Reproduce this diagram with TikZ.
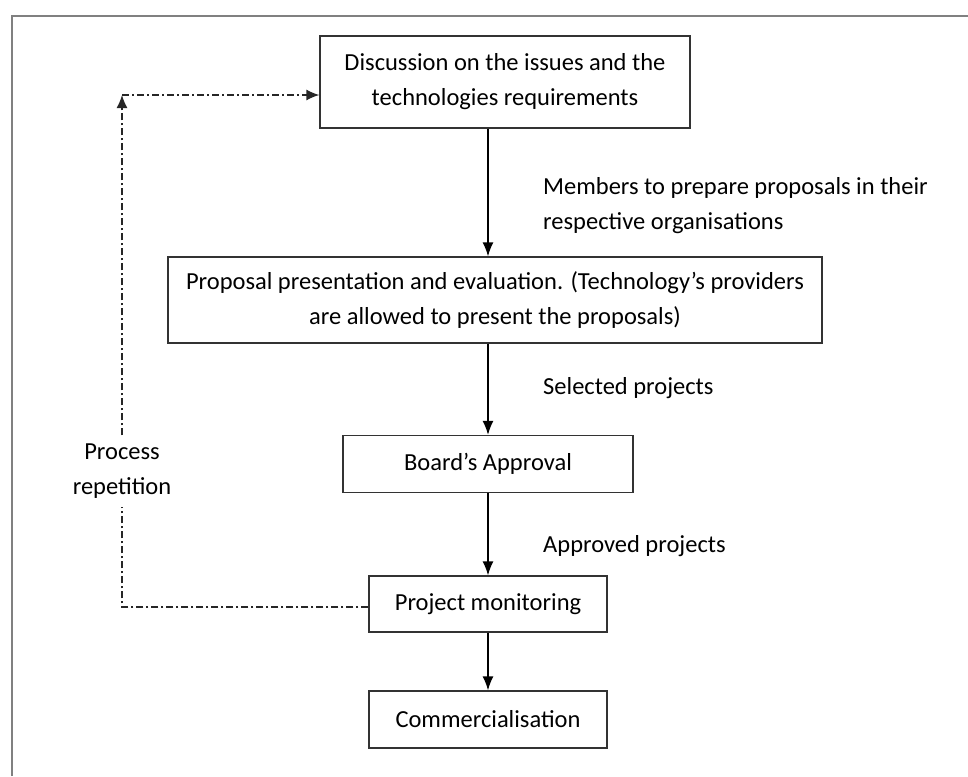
\documentclass[tikz,border=0pt]{standalone}
\usepackage{fontspec}
\setmainfont{Carlito}
\usetikzlibrary{arrows.meta}
\begin{document}
\begin{tikzpicture}[x=1pt,y=-1pt,
  txt/.style={font=\fontsize{24.5}{35}\selectfont},
  box/.style={txt, draw=black!80, line width=1.3pt, fill=white, align=center,
    inner xsep=18pt, inner ysep=0pt},
  lbl/.style={txt, anchor=west, align=left, inner sep=0pt},
  flow/.style={-{Latex[length=14pt,width=11pt]}, line width=1.4pt},
  dd/.style={line width=1.4pt, dash pattern=on 7pt off 3pt on 2pt off 3pt, black!85},
  ddarrow/.style={dd, -{Latex[length=13pt,width=11pt]}},
]
\useasboundingbox (0,0) rectangle (968,776);
\draw[line width=2.5pt, black!50] (12,776) -- (12,16) -- (968,16);

\node[box, minimum width=370pt, minimum height=92pt] (b1) at (505,82)
  {Discussion on the issues and the\\technologies requirements};
\node[box, minimum height=86pt] (b2) at (495,300)
  {Proposal presentation and evaluation. (Technology’s providers\\are allowed to present the proposals)};
\node[box, minimum width=290pt, minimum height=57pt] (b3) at (488,464) {Board’s Approval};
\node[box, minimum width=238pt, minimum height=56pt] (b4) at (488,604) {Project monitoring};
\node[box, minimum width=238pt, minimum height=57pt] (b5) at (488,719.5) {Commercialisation};

\node[lbl] (l1) at (543,206) {Members to prepare proposals in their\\respective organisations};
\node[lbl] (l2) at (543,388) {Selected projects};
\node[lbl] (l3) at (543,546) {Approved projects};

\node[txt, align=center, inner sep=8pt] (pr) at (122,471) {Process\\repetition};

\coordinate (cb) at (122,607);
\coordinate (ct) at (122,95);

\draw[flow] (b1.south -| b5.center) -- (b2.north -| b5.center);
\draw[flow] (b2.south -| b5.center) -- (b3.north);
\draw[flow] (b3) -- (b4);
\draw[flow] (b4) -- (b5);

\draw[dd] (b4.west |- cb) -- (cb) -- (pr.south);
\draw[ddarrow] (pr.north) -- (ct);
\draw[ddarrow] (ct) -- (ct -| b1.west);
\end{tikzpicture}
\end{document}
